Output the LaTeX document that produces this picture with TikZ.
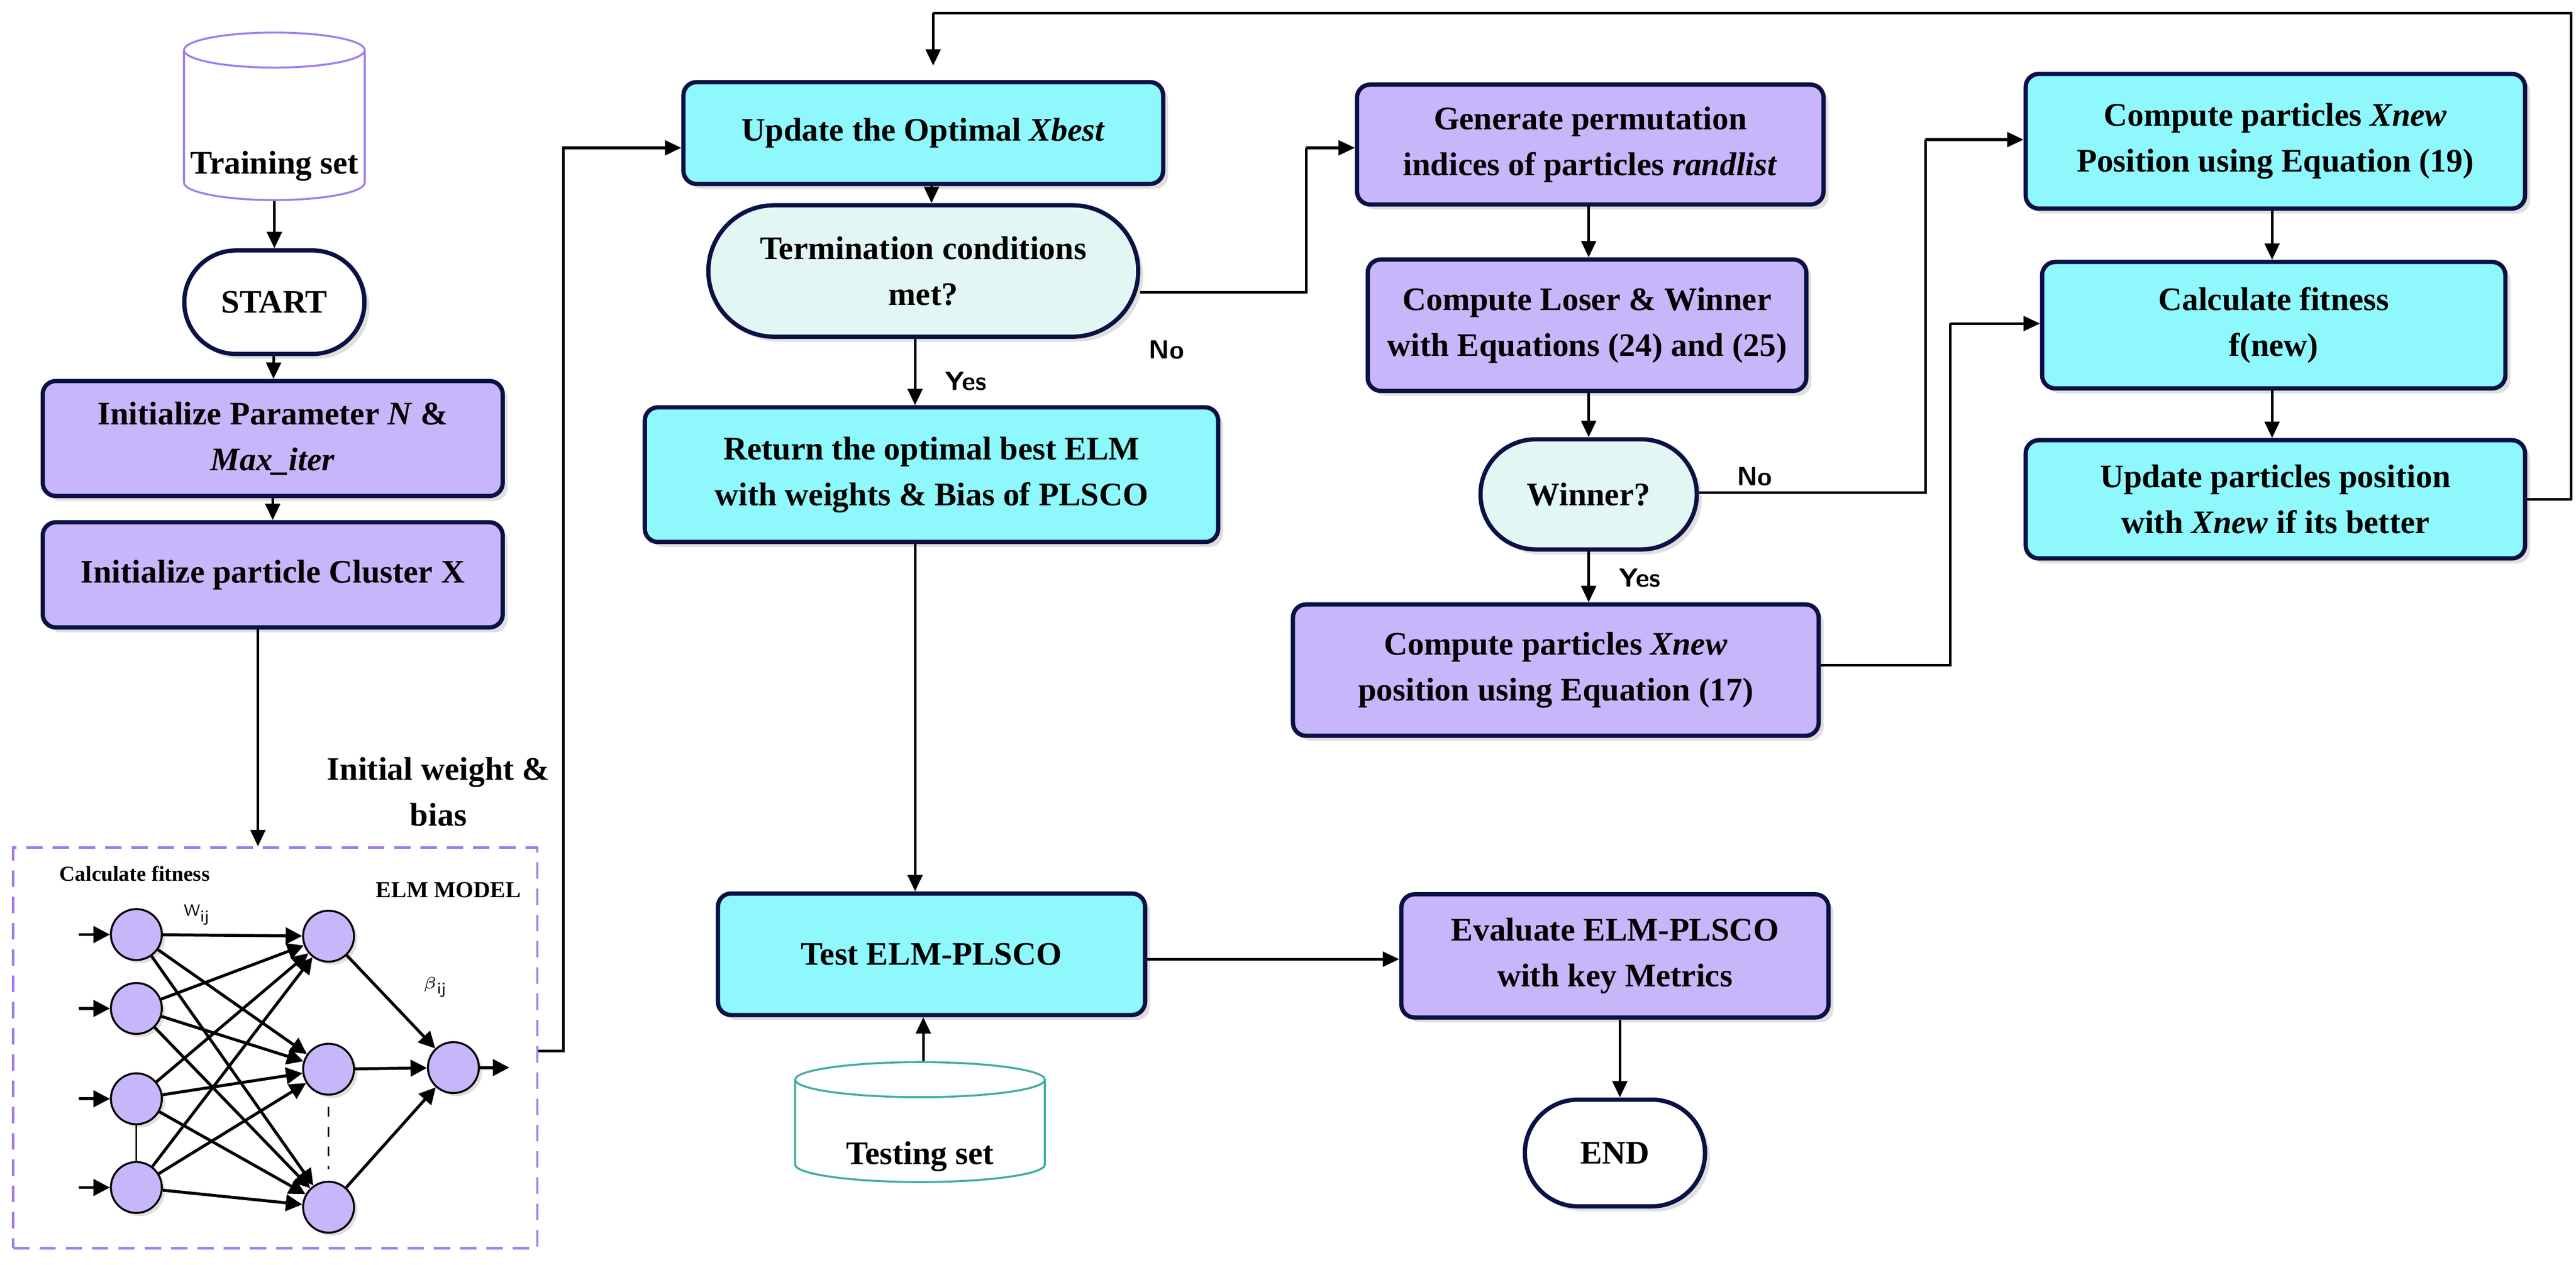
\documentclass[tikz,border=0pt]{standalone}
\usepackage{fontspec}
\setmainfont{Liberation Serif}
\usetikzlibrary{shapes.geometric,shapes.misc,arrows.meta,shadows}
\definecolor{pur}{HTML}{C8B6FA}
\definecolor{cy}{HTML}{8EF8FC}
\definecolor{lt}{HTML}{E2F6F4}
\definecolor{nav}{HTML}{0B1145}
\definecolor{cylp}{HTML}{A07CF2}
\definecolor{cylt}{HTML}{3EAE9E}
\tikzset{
 base/.style={draw=nav,line width=1.3pt,align=center,font=\bfseries\fontsize{10}{14}\selectfont,
   drop shadow={opacity=0.25,shadow xshift=1.5pt,shadow yshift=-1.5pt}},
 pbox/.style={base,rectangle,rounded corners=4pt,fill=pur},
 cbox/.style={base,rectangle,rounded corners=4pt,fill=cy},
 stad/.style={base,rounded rectangle,fill=#1},
 cyl/.style={cylinder,shape border rotate=90,aspect=1.6,draw=#1,line width=0.6pt,fill=white},
 arr/.style={line width=0.8pt,-{Triangle[length=5pt,width=4.5pt]}},
 ln/.style={line width=0.8pt},
 neu/.style={circle,draw=black,line width=0.6pt,fill=pur,minimum size=15.5pt,inner sep=0pt,
   drop shadow={opacity=0.25,shadow xshift=1pt,shadow yshift=-1pt}},
 narr/.style={line width=0.9pt,-{Triangle[length=5pt,width=5pt]}},
 lab/.style={font=\bfseries\fontsize{10}{14}\selectfont,align=center},
 yn/.style={font=\sffamily\bfseries\fontsize{8}{10}\selectfont},
}
\begin{document}
\begin{tikzpicture}[x=0.5pt,y=-0.5pt]
\useasboundingbox (0,0) rectangle (1568,770);
% left column
\node[cyl=cylp,minimum width=55pt,minimum height=51pt] (train) at (167,79) {};
\node[lab] (traint) at (167,101) {Training set};
\node[stad=white,minimum width=61.5pt,minimum height=31.5pt] (start) at (167,184) {START};
\node[pbox,minimum width=140pt,minimum height=35pt] (init) at (166,267) {Initialize Parameter \textit{N} \&\\\textit{Max\_iter}};
\node[pbox,minimum width=140pt,minimum height=32pt] (clus) at (166,350) {Initialize particle Cluster X};
\node[draw=cylp,dashed,dash pattern=on 5pt off 3pt,line width=0.7pt,minimum width=159.5pt,minimum height=122pt] (elm) at (167.5,638) {};
\node[lab,anchor=west] (iw) at (192,482) {Initial weight \&\\bias};
\node[font=\bfseries\fontsize{6.5}{8}\selectfont] (cf) at (82,532) {Calculate fitness};
\node[font=\bfseries\fontsize{7}{8}\selectfont] (em) at (273,542) {ELM MODEL};
\node[font=\sffamily\fontsize{5}{6}\selectfont] (wl) at (120,557) {W\textsubscript{ij}};
\node[font=\sffamily\fontsize{5}{6}\selectfont] (bl) at (265,601) {$\beta$\textsubscript{ij}};
\foreach \i/\y in {1/569,2/614,3/669,4/723}{
  \node[neu] (i\i) at (83,\y) {};
  \coordinate (s\i) at (48,\y);
  \draw[narr] (s\i) -- (i\i);
}
\foreach \j/\y in {1/570,2/651,3/735}{ \node[neu] (h\j) at (200,\y) {}; }
\node[neu] (o) at (276,650) {};
\coordinate (oe) at (310,650);
\foreach \i in {1,...,4}{ \foreach \j in {1,2,3}{ \draw[narr] (i\i) -- (h\j); } }
\foreach \j in {1,2,3}{ \draw[narr] (h\j) -- (o); }
\draw[narr] (o) -- (oe);
\draw[line width=0.4pt] (i3.south) -- (i4.north);
\draw[line width=0.4pt,dashed] (200,674) -- (200,712);
% middle column
\node[cbox,minimum width=146pt,minimum height=31pt] (upd0) at (562,81) {Update the Optimal \textit{Xbest}};
\node[stad=lt,minimum width=137.5pt,minimum height=40pt] (term) at (562,165) {Termination conditions\\met?};
\node[cbox,minimum width=174.5pt,minimum height=41pt] (ret) at (567,289) {Return the optimal best ELM\\with weights \& Bias of PLSCO};
\node[cbox,minimum width=130pt,minimum height=37pt] (test) at (567,581) {Test ELM-PLSCO};
\node[cyl=cylt,minimum width=76pt,minimum height=36.5pt] (tset) at (560,691) {};
\node[lab] (tsett) at (560,704) {Testing set};
\node[pbox,minimum width=130pt,minimum height=37.5pt] (eval) at (983,582) {Evaluate ELM-PLSCO\\with key Metrics};
\node[stad=white,minimum width=61.5pt,minimum height=32.5pt] (end) at (983,702) {END};
% right columns
\node[pbox,minimum width=142pt,minimum height=36.5pt] (gen) at (968,88) {Generate permutation\\indices of particles \textit{randlist}};
\node[pbox,minimum width=133.5pt,minimum height=40pt] (los) at (966,198) {Compute Loser \& Winner\\with Equations (24) and (25)};
\node[stad=lt,minimum width=72.5pt,minimum height=33.5pt] (win) at (967,301) {Winner?};
\node[pbox,minimum width=160pt,minimum height=40pt] (c17) at (947,408) {Compute particles \textit{Xnew}\\position using Equation (17)};
\node[cbox,minimum width=152pt,minimum height=41pt] (c19) at (1385,86) {Compute particles \textit{Xnew}\\Position using Equation (19)};
\node[cbox,minimum width=141pt,minimum height=38.5pt] (calc) at (1384,198) {Calculate fitness\\f(new)};
\node[cbox,minimum width=152pt,minimum height=36pt] (upd) at (1385,304) {Update particles position\\with \textit{Xnew} if its better};
% connectors
\draw[arr] (train) -- (start);
\draw[arr] (start) -- (init);
\draw[arr] (init) -- (clus);
\draw[arr] (clus.south -| 157,0) -- (elm.north -| 157,0);
\draw[arr] (elm.east |- 0,640) -- (343,640) -- (343,90) -- (upd0.west |- 0,90);
\draw[arr] (upd0.south -| 567,0) -- (term.north -| 567,0);
\draw[ln] (term.east |- 0,178) -- (795,178) -- (795,90);
\draw[arr] (795,90) -- (gen.west |- 0,90);
\node[yn] (no1) at (710,213) {No};
\draw[arr] (term.south -| 557,0) -- (ret.north -| 557,0);
\node[yn] (yes1) at (588,232) {Yes};
\draw[arr] (ret.south -| 557,0) -- (test.north -| 557,0);
\draw[arr] (tset.north -| 562,0) -- (test.south -| 562,0);
\draw[arr] (test.east |- 0,584) -- (eval.west |- 0,584);
\draw[arr] (eval.south -| 986,0) -- (end.north -| 986,0);
\draw[arr] (gen.south -| 967,0) -- (los.north -| 967,0);
\draw[arr] (los.south -| 967,0) -- (win);
\draw[ln] (win.east |- 0,300) -- (1172,300) -- (1172,85);
\draw[arr] (1172,85) -- (c19.west |- 0,85);
\node[yn] (no2) at (1068,290) {No};
\draw[arr] (win) -- (c17.north -| 967,0);
\node[yn] (yes2) at (998,352) {Yes};
\draw[ln] (c17.east |- 0,405) -- (1187,405) -- (1187,197);
\draw[arr] (1187,197) -- (calc.west |- 0,197);
\draw[arr] (c19.south -| 1383,0) -- (calc.north -| 1383,0);
\draw[arr] (calc.south -| 1383,0) -- (upd.north -| 1383,0);
\draw[ln] (upd.east |- 0,304) -- (1565,304) -- (1565,8) -- (568,8);
\draw[arr] (568,8) -- (568,40);
\end{tikzpicture}
\end{document}
